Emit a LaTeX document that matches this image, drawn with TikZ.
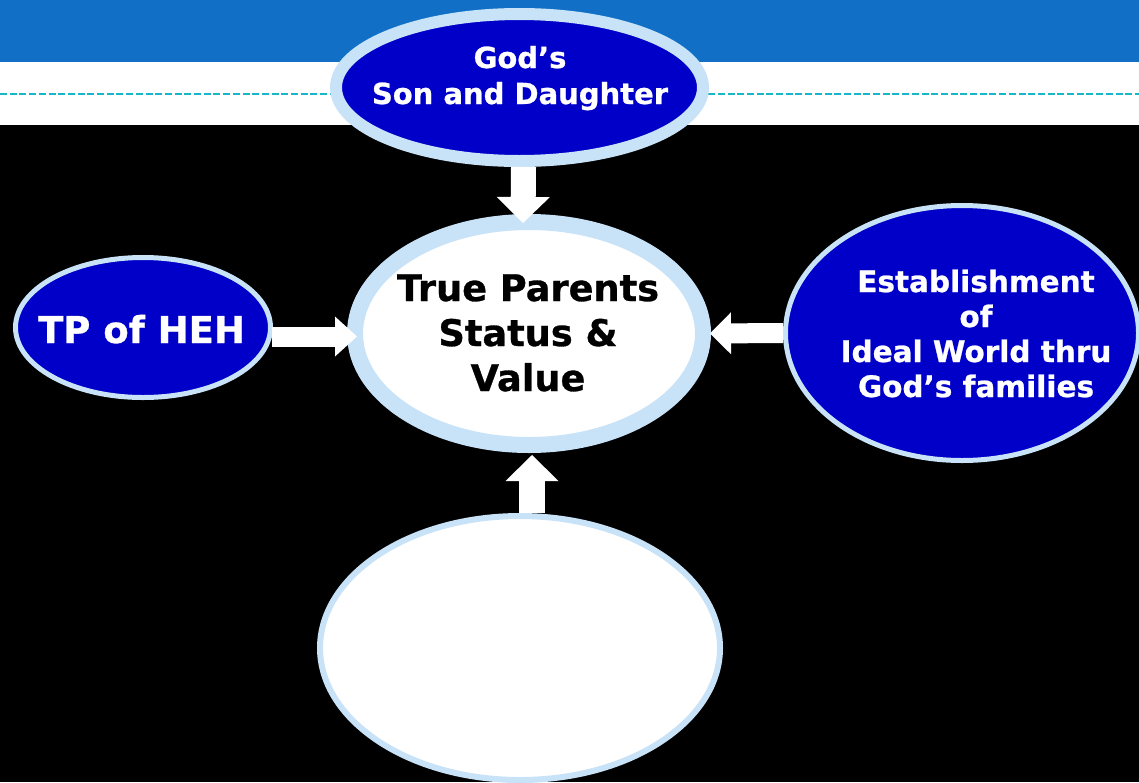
\documentclass[tikz,border=0pt]{standalone}
\usepackage{fontspec}
\setmainfont{DejaVu Sans}[BoldFeatures={FakeBold=0.8}]
\usetikzlibrary{shapes.geometric,arrows.meta}
\definecolor{bandblue}{HTML}{1170C6}
\definecolor{dashcyan}{HTML}{17B7C9}
\definecolor{ovalblue}{HTML}{0000C8}
\definecolor{rimblue}{HTML}{C8E2F8}
\tikzset{
  oval/.style={ellipse, draw=rimblue, inner sep=0pt},
  blueoval/.style={oval, fill=ovalblue},
  whiteoval/.style={oval, fill=white},
  wtext/.style={text=white, font=\bfseries, align=center, inner sep=0pt, anchor=base},
  ktext/.style={text=black, font=\bfseries, align=center, inner sep=0pt, anchor=base},
  blockarrow/.style={draw=white, line width=#1, line cap=butt},
}
\begin{document}
\begin{tikzpicture}[x=1pt,y=-1pt]
\useasboundingbox (0,0) rectangle (1139,782);
\clip (0,0) rectangle (1139,782);
% background bands
\fill[bandblue] (0,0) rectangle (1139,62);
\fill[white] (0,62) rectangle (1139,125);
\fill[black] (0,125) rectangle (1139,782);
\draw[dashcyan, line width=2.2pt, dash pattern=on 7pt off 2.7pt] (0,94) -- (1139,94);

% ovals
\node[blueoval, line width=12pt, minimum width=367pt, minimum height=147pt] (top) at (519.5,87.5) {};
\node[whiteoval, line width=16pt, minimum width=348pt, minimum height=223pt] (c) at (529,333.5) {};
\node[blueoval, line width=5pt, minimum width=255pt, minimum height=140pt] (tp) at (143,327.5) {};
\node[blueoval, line width=5pt, minimum width=353pt, minimum height=255pt] (rt) at (962,333) {};
\node[whiteoval, line width=6pt, minimum width=400pt, minimum height=264pt] (bot) at (520,648) {};

% texts (base = baseline of the last line)
\node[wtext, font=\bfseries\fontsize{29pt}{36pt}\selectfont] (topt) at (520,104) {God’s\\Son and Daughter};
\node[ktext, font=\bfseries\fontsize{36.7pt}{45pt}\selectfont] (ct) at (528,391) {True Parents\\Status \&\\Value};
\node[wtext, font=\bfseries\fontsize{37pt}{44pt}\selectfont] (tpt) at (141.5,343) {TP of HEH};
\node[wtext, font=\bfseries\fontsize{29.5pt}{35pt}\selectfont] (rtt) at (976,397) {Establishment\\of\\Ideal World thru\\God’s families};

% block arrows
\draw[blockarrow=25pt, -{Triangle[width=53pt,length=26pt,line width=0pt]}]
  ([xshift=4pt]top.south) -- ([xshift=-6pt,yshift=-9pt]c.north);
\draw[blockarrow=20pt, -{Triangle[width=40pt,length=22pt,line width=0pt]}]
  ([xshift=-1pt,yshift=-9pt]tp.east) -- ([xshift=10pt,yshift=-3pt]c.west);
\draw[blockarrow=20pt, -{Triangle[width=42pt,length=21pt,line width=0pt]}]
  (rt.west) -- ([xshift=-1pt]c.east);
\draw[blockarrow=26pt, -{Triangle[width=53pt,length=26pt,line width=0pt]}]
  ([xshift=12pt]bot.north) -- ([xshift=3pt,yshift=-2pt]c.south);
\end{tikzpicture}
\end{document}
